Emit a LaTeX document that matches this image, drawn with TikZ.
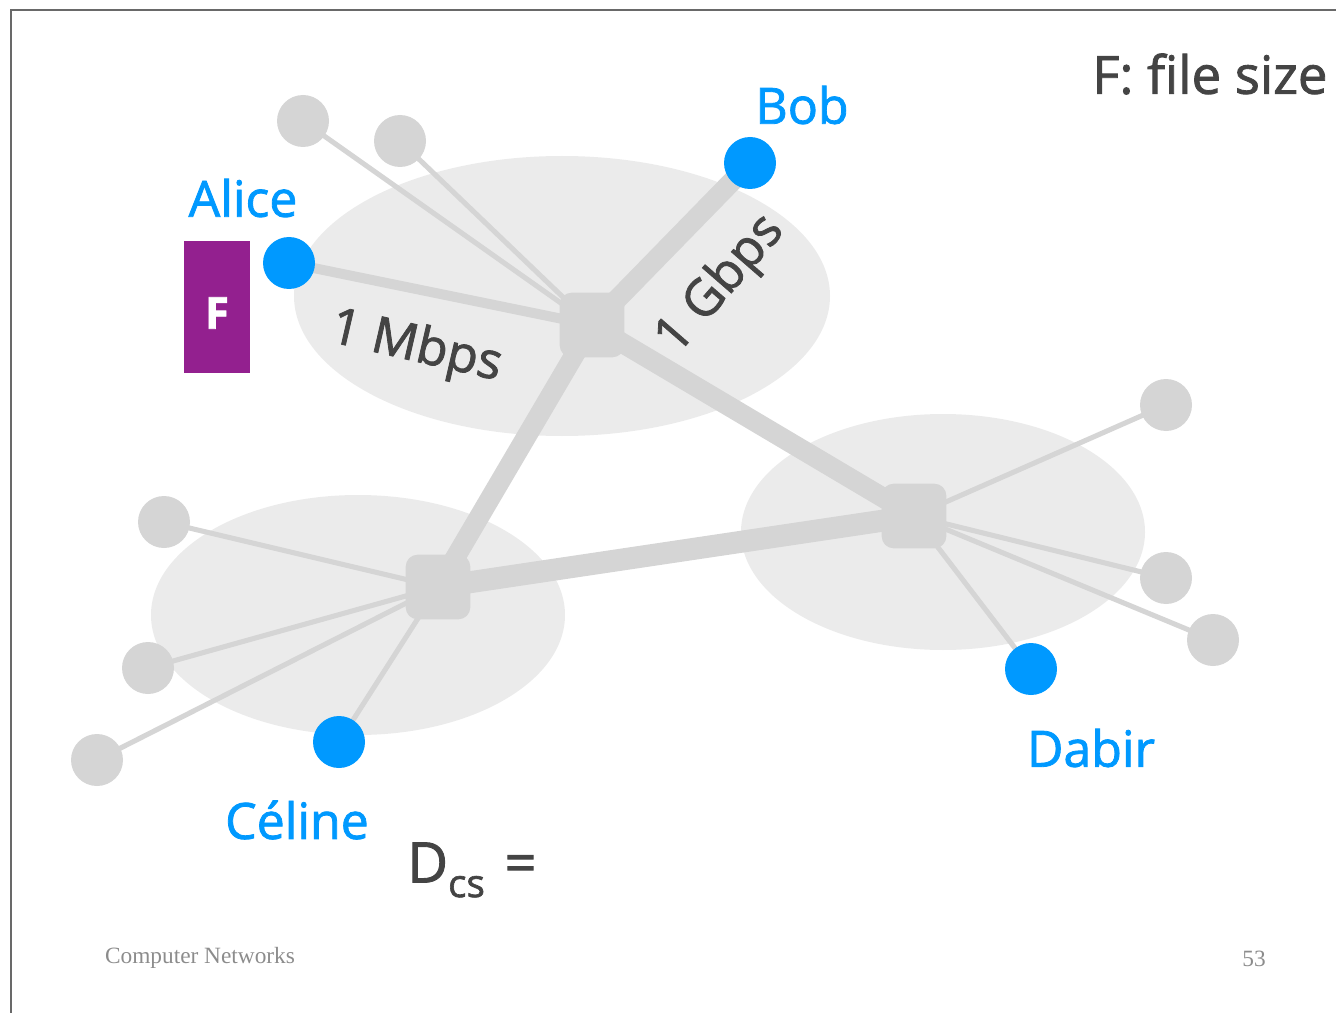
\documentclass[tikz,border=0pt]{standalone}
\usepackage{fontspec}
\newfontfamily\labelfont[FakeBold=1.6]{Open Sans}
\newfontfamily\footfont{Liberation Serif}
\definecolor{hostblue}{HTML}{0099FF}
\definecolor{netgray}{HTML}{D5D5D5}
\definecolor{cloudgray}{HTML}{EBEBEB}
\definecolor{inkgray}{HTML}{444444}
\definecolor{filepurple}{HTML}{93208F}
\definecolor{footgray}{HTML}{8C8C8C}
\pgfdeclarelayer{clouds}
\pgfdeclarelayer{links}
\pgfsetlayers{clouds,links,main}
\tikzset{
  cloud/.style={fill=cloudgray, draw=none},
  hub/.style={fill=netgray, draw=none, rounded corners=9pt, minimum size=48.5pt, inner sep=0pt},
  leaf/.style={circle, fill=netgray, draw=none, minimum size=39pt, inner sep=0pt},
  host/.style={circle, fill=hostblue, draw=none, minimum size=39pt, inner sep=0pt},
  spoke/.style={draw=netgray, line width=3.8pt},
  access/.style={draw=netgray, line width=7.5pt},
  trunk/.style={draw=netgray, line width=15pt},
  hostname/.style={text=hostblue, font=\labelfont\fontsize{37.5}{44}\selectfont},
  linklabel/.style={text=inkgray, font=\labelfont\fontsize{38}{44}\selectfont},
  foot/.style={text=footgray, font=\footfont\fontsize{17.5}{20}\selectfont}
}
\begin{document}
\begin{tikzpicture}[x=0.75pt, y=-0.75pt]
\useasboundingbox (0,0) rectangle (1336,1013);
% slide frame (left and top edges)
\draw[draw=inkgray!80, line width=0.9pt] (11,1013) -- (11,10) -- (1336,10);

% local networks
\begin{pgfonlayer}{clouds}
\fill[cloud] (562,296) ellipse [x radius=268, y radius=140];
\fill[cloud] (358,615) ellipse [x radius=207, y radius=120];
\fill[cloud] (943,532) ellipse [x radius=202, y radius=118];
\end{pgfonlayer}

% routers
\node[hub] (ht) at (592,325) {};
\node[hub] (hl) at (438,587) {};
\node[hub] (hr) at (914,516) {};

% end hosts
\node[leaf] (t1) at (303,121) {};
\node[leaf] (t2) at (400,141) {};
\node[leaf] (l1) at (164,522) {};
\node[leaf] (l2) at (148,668) {};
\node[leaf] (l3) at (97,760) {};
\node[leaf] (r1) at (1166,405) {};
\node[leaf] (r2) at (1166,578) {};
\node[leaf] (r3) at (1213,640) {};
\node[host] (alice) at (289,263) {};
\node[host] (bob) at (750,163) {};
\node[host] (celine) at (339,742) {};
\node[host] (dabir) at (1031,669) {};

% links
\begin{pgfonlayer}{links}
\draw[trunk] (ht.center) -- (hl.center);
\draw[trunk] (ht.center) -- (hr.center);
\draw[trunk, line width=16.5pt] (hl.center) -- (hr.center);
\draw[trunk] (ht.center) -- (bob.center);
\draw[access] (ht.center) -- (alice.center);
\draw[spoke] (ht.center) -- (t1.center);
\draw[spoke] (ht.center) -- (t2.center);
\draw[spoke] (hl.center) -- (l1.center);
\draw[spoke] (hl.center) -- (l2.center);
\draw[spoke] (hl.center) -- (l3.center);
\draw[spoke] (hl.center) -- (celine.center);
\draw[spoke] (hr.center) -- (r1.center);
\draw[spoke] (hr.center) -- (r2.center);
\draw[spoke] (hr.center) -- (r3.center);
\draw[spoke] (hr.center) -- (dabir.center);
\end{pgfonlayer}

% host names
\node[hostname] (alicename) at (243,198) {Alice};
\node[hostname] (bobname) at (802,105) {Bob};
\node[hostname] (celinename) at (297,820) {Céline};
\node[hostname] (dabirname) at (1091,748) {Dabir};

% the file held by Alice
\node[fill=filepurple, minimum width=49.5pt, minimum height=99pt, inner sep=0pt] (file) at (217,307) {};
\node[text=white, font=\labelfont\bfseries\fontsize{33}{38}\selectfont] (filename) at (217,313) {F};

% link rates
\node[linklabel, rotate=-13, inner sep=0pt] (mbps) at (416,348) {1 Mbps};
\node[linklabel, rotate=49, inner sep=0pt] (gbps) at (721,285) {1 Gbps};

% notation
\node[linklabel, anchor=west, inner sep=0pt, font=\labelfont\fontsize{39.5}{46}\selectfont] (fsize) at (1092,74) {F:\ file size};
\node[text=inkgray, font=\labelfont\fontsize{42}{48}\selectfont, anchor=west, inner sep=0pt] (dcs) at (407,870)
  {D\raisebox{-0.26em}{\fontsize{29}{34}\selectfont cs}\hspace{0.35em}=};

% footer
\node[foot] (course) at (200,958) {Computer Networks};
\node[foot] (page) at (1254,959) {53};
\end{tikzpicture}
\end{document}
